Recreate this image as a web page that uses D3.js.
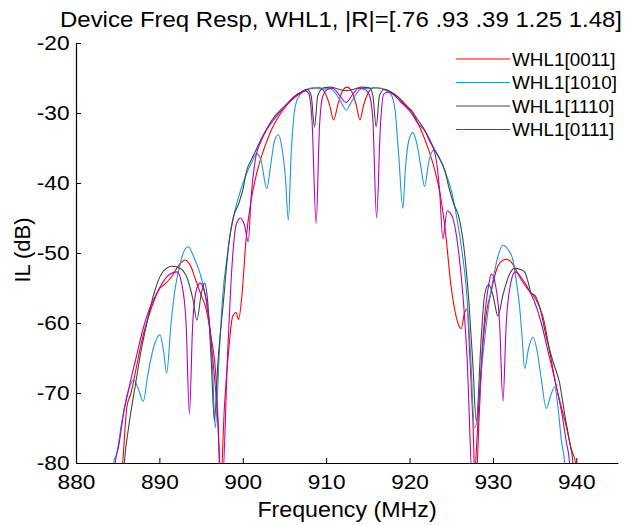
<!DOCTYPE html>
<html>
<head>
<meta charset="utf-8">
<script src="https://cdn.jsdelivr.net/npm/d3@7"></script>
<style>
  html, body { margin: 0; padding: 0; background: #fff; }
  svg { display: block; }
  text { font-family: "Liberation Sans", Arial, Helvetica, sans-serif; fill: #000; }
</style>
</head>
<body>
<svg id="chart" width="635" height="525"></svg>
<script>
// ---------- data (frequency MHz, insertion loss dB) ----------
const titleText = "Device Freq Resp, WHL1, |R|=[.76 .93 .39 1.25 1.48]";
const xLabel = "Frequency (MHz)";
const yLabel = "IL (dB)";
const xTicks = [880, 890, 900, 910, 920, 930, 940];
const yTicks = [-80, -70, -60, -50, -40, -30, -20];
const seriesNames = ["WHL1[0011]", "WHL1[1010]", "WHL1[1110]", "WHL1[0111]"];

const red0011 = [
  [885.3,-84],[885.6,-80],[886.1,-72],[886.6,-70],[887.3,-66],[888.0,-62],[888.6,-59.5],[889.3,-57],
  [889.9,-55.3],[890.6,-54.5],[891.4,-53.5],[892.3,-51.8],[893.1,-51],[893.8,-52],[894.4,-54],[895.0,-56],
  [895.6,-58],[896.2,-62],[896.8,-68],[897.1,-76],[897.3,-84],[897.8,-72],[898.3,-64],[898.8,-59],
  [899.2,-58.5],[899.5,-59.5],[899.9,-56],[900.4,-48],[901.0,-42.5],[901.7,-38.5],[902.5,-35.3],[903.4,-32.5],
  [904.3,-30.5],[905.2,-29],[906.2,-27.8],[907.2,-27],[908.2,-26.5],[909.2,-26.4],[909.9,-27.2],[910.4,-28.8],
  [910.9,-31],[911.4,-28.8],[911.9,-27],[912.5,-26.3],[913.1,-27],[913.6,-28.8],[914.05,-31],[914.5,-28.8],
  [915.0,-27.2],[915.7,-26.4],[916.7,-26.5],[917.7,-27],[918.7,-27.8],[919.7,-29],[920.6,-30.5],[921.4,-32.5],
  [922.3,-35.3],[923.1,-38.5],[923.8,-42.5],[924.4,-48],[924.9,-54],[925.4,-58],[925.8,-60],[926.2,-60.8],
  [926.6,-58.5],[926.9,-58],[927.2,-64],[927.6,-74],[927.9,-84],[928.4,-72],[928.8,-63],[929.3,-58],
  [929.8,-55.5],[930.4,-52.5],[931.0,-51.2],[931.6,-50.9],[932.2,-51.3],[932.8,-52.5],[933.5,-54],[934.2,-55.2],
  [934.8,-56],[935.4,-57.2],[936.0,-59.1],[936.8,-64],[937.6,-69.1],[938.2,-72],[938.8,-74.8],[939.4,-78],
  [939.9,-80],[940.2,-84]
];

const blue1010 = [
  [884.3,-84],[884.5,-80],[884.9,-78.6],[885.5,-74],[886.2,-70],[886.9,-68.1],[887.5,-69.5],[888.07,-71.2],
  [888.6,-67.5],[889.3,-63.5],[890.07,-61.7],[890.5,-64],[890.87,-67.2],[891.4,-60],[891.9,-55],[892.5,-51.5],
  [893.0,-49.6],[893.47,-49.1],[894.1,-50.5],[894.87,-52.9],[895.5,-56],[896.07,-61],[896.4,-67],[896.7,-75],
  [897.2,-64],[897.6,-56],[898.07,-51],[898.6,-46.5],[899.07,-43.9],[899.8,-40.8],[900.47,-38.6],[901.1,-37],
  [901.67,-35.8],[902.2,-36.8],[902.87,-40.8],[903.4,-37],[903.8,-34],[904.27,-33.1],[904.7,-35],[905.1,-39],
  [905.47,-45.3],[905.8,-36],[906.3,-29],[906.9,-27.3],[907.7,-26.6],[908.6,-26.4],[909.5,-26.6],[910.4,-26.5],
  [911.2,-27.3],[911.9,-28.7],[912.4,-29.6],[912.9,-28.7],[913.6,-27.3],[914.3,-26.5],[915.2,-26.5],[916.1,-26.4],
  [917.0,-26.7],[917.8,-27.4],[918.3,-30],[918.7,-36],[919.2,-43.6],[919.5,-38],[919.9,-34],[920.4,-32.8],
  [920.9,-34.5],[921.4,-38],[921.8,-40.5],[922.3,-37],[922.9,-35.3],[923.6,-36.5],[924.3,-38.5],[925.0,-41],
  [925.6,-44.5],[926.2,-49],[926.8,-55],[927.3,-64],[927.8,-75],[928.2,-72.9],[928.6,-67],[929.0,-62.4],
  [929.5,-57.5],[930.0,-53.9],[930.6,-50.5],[931.2,-48.9],[931.8,-49.5],[932.4,-51],[932.8,-54],[933.2,-57.7],
  [933.5,-62],[933.8,-66.5],[934.3,-63.5],[934.8,-62],[935.3,-64],[935.8,-68],[936.4,-72.2],[936.9,-70.5],
  [937.4,-69.1],[937.8,-72],[938.2,-76.7],[938.6,-80],[938.8,-84]
];

const dark1110 = [
  [885.6,-84],[885.8,-80],[886.3,-75],[887.1,-69],[887.8,-64],[888.5,-60],[889.3,-56],[890.3,-52.9],
  [891.5,-51.9],[892.5,-52.2],[893.3,-53.5],[894.0,-56.5],[894.5,-59.6],[895.0,-56],[895.4,-54.3],[895.8,-57],
  [896.2,-65],[896.6,-74],[897.0,-66],[897.7,-56.7],[898.3,-49],[898.9,-44.8],[899.5,-43],[900.0,-41],
  [900.5,-38.1],[901.1,-36.5],[901.7,-35],[902.3,-33.5],[902.9,-32.2],[903.5,-31],[904.5,-29.6],[905.3,-28.8],
  [906.1,-27.7],[907.0,-27],[907.7,-26.6],[908.2,-27.5],[908.6,-32],[909.0,-27.5],[909.7,-26.4],[910.5,-26.3],
  [911.5,-26.6],[912.4,-26.8],[913.3,-26.6],[914.3,-26.3],[915.2,-26.4],[915.6,-27.5],[916.0,-32],[916.4,-27.5],
  [917.0,-26.6],[917.8,-27],[918.6,-27.7],[919.4,-28.8],[920.2,-29.6],[921.0,-31],[921.6,-32],[922.3,-33.5],
  [922.9,-35],[923.6,-36.5],[924.2,-38.1],[924.8,-41],[925.3,-43],[925.9,-44.8],[926.5,-49],[927.1,-56.7],
  [927.6,-66],[928.0,-74],[928.6,-62],[929.0,-56],[929.5,-54.5],[930.0,-56],[930.6,-59],[931.2,-56],
  [932.0,-53],[932.6,-52.2],[933.4,-52.4],[933.8,-52.7],[934.3,-54.5],[934.6,-55.8],[935.0,-56],[935.6,-57.7],
  [936.4,-62],[937.2,-65.5],[938.0,-68.6],[938.6,-73],[939.2,-77],[939.6,-80],[939.8,-84]
];

const magenta0111 = [
  [884.5,-84],[884.7,-80],[885.1,-77.7],[885.7,-73],[886.4,-69],[887.2,-65],[888.0,-61],[888.8,-58],
  [889.6,-56],[890.4,-54.2],[891.3,-53],[892.1,-52.7],[892.7,-54.5],[893.2,-60],[893.6,-73],[894.0,-60],
  [894.5,-55],[894.9,-54.3],[895.4,-55.5],[895.9,-59],[896.4,-65],[896.9,-72],[897.5,-84],[898.2,-64],
  [898.7,-52],[899.2,-46],[899.7,-45],[900.2,-46],[900.66,-48.4],[901.0,-42],[901.5,-36.7],[902.2,-34],
  [902.9,-32.3],[903.7,-31],[904.5,-29.8],[905.2,-28.8],[905.7,-28.2],[906.3,-27.6],[906.9,-27.2],[907.5,-26.8],
  [907.9,-27.2],[908.3,-31],[908.8,-45.8],[909.2,-32],[909.6,-27.6],[910.2,-26.6],[910.8,-26.5],[911.5,-27.3],
  [912.4,-28.5],[913.2,-27.3],[913.9,-26.5],[914.6,-26.6],[915.2,-27.5],[915.6,-31],[916.05,-45],[916.5,-32],
  [916.9,-27.3],[917.5,-27],[918.2,-27.5],[919.0,-28.5],[919.6,-29.2],[920.2,-30],[921.0,-31.5],[921.8,-32.5],
  [922.4,-34],[923.1,-36],[923.6,-41],[924.0,-48],[924.5,-44],[925.0,-44.5],[925.4,-46],[925.9,-50],
  [926.4,-56],[926.9,-65],[927.6,-84],[928.3,-72],[928.7,-64],[929.1,-58],[929.5,-54.5],[929.8,-53],
  [930.3,-54.5],[930.8,-60],[931.2,-71.2],[931.6,-60],[932.1,-54.5],[932.7,-52.7],[933.4,-53.5],[934.2,-55],
  [935.0,-57],[935.8,-60],[936.6,-64],[937.4,-68],[938.2,-72.5],[938.8,-77],[939.2,-80],[939.4,-84]
];

const seriesData = [red0011, blue1010, dark1110, magenta0111];
const seriesColors = ["#ff0000", "#1c96dc", "#3c4a40", "#b400c0"];

// ---------- layout ----------
const svg = d3.select("#chart");
const X0 = 76, X1 = 618, Y0 = 463, Y1 = 43;
const SX = 1.08; // horizontal text stretch of the original rendering

const x = d3.scaleLinear().domain([880, 945]).range([X0, X1]);
const y = d3.scaleLinear().domain([-80, -20]).range([Y0, Y1]);

svg.append("defs").append("clipPath").attr("id", "plotclip")
  .append("rect").attr("x", X0).attr("y", Y1 - 2).attr("width", X1 - X0).attr("height", Y0 - Y1 + 2);

// lines
const line = d3.line().x(d => x(d[0])).y(d => y(d[1])).curve(d3.curveMonotoneX);
const gLines = svg.append("g").attr("clip-path", "url(#plotclip)");
seriesData.forEach((s, i) => {
  gLines.append("path").datum(s)
    .attr("d", line)
    .attr("fill", "none")
    .attr("stroke", seriesColors[i])
    .attr("stroke-width", 1.1)
    .attr("stroke-linejoin", "round");
});

// axes
const xAxis = d3.axisBottom(x).tickValues(xTicks).tickSizeInner(-5).tickSizeOuter(0).tickPadding(11)
  .tickFormat(d3.format("d"));
const yAxis = d3.axisLeft(y).tickValues(yTicks).tickSizeInner(-5).tickSizeOuter(0).tickPadding(6)
  .tickFormat(d => d3.format("d")(d).replace("−", "-"));

const gx = svg.append("g").attr("transform", `translate(0,${Y0})`).call(xAxis);
const gy = svg.append("g").attr("transform", `translate(${X0},0)`).call(yAxis);
[gx, gy].forEach(g => {
  g.select(".domain").attr("stroke", "#000").attr("stroke-width", 1.2);
  g.selectAll(".tick line").attr("stroke", "#000").attr("stroke-width", 1);
  g.selectAll(".tick text").attr("font-size", 21).attr("fill", "#000")
    .attr("font-family", "'Liberation Sans', Arial, sans-serif")
    .attr("transform", `scale(${SX},1)`);
});

// title and labels
function stretchedText(px, py, str, size, anchor, rotate, sx) {
  const g = svg.append("g").attr("transform", `translate(${px},${py})` + (rotate ? ` rotate(${rotate})` : ""));
  g.append("text").text(str)
    .attr("font-size", size)
    .attr("text-anchor", anchor)
    .attr("transform", rotate ? `scale(1,1)` : `scale(${sx || SX},1)`);
  return g;
}
stretchedText(341, 27, titleText, 22, "middle", 0, 1.09);
stretchedText(347, 517, xLabel, 21.5, "middle");
stretchedText(30, 250, yLabel, 22, "middle", -90);

// legend
const legendRows = [59, 82.5, 106, 129.5];
seriesNames.forEach((name, i) => {
  const ly = legendRows[i];
  svg.append("line")
    .attr("x1", 456).attr("x2", 510).attr("y1", ly).attr("y2", ly)
    .attr("stroke", seriesColors[i]).attr("stroke-width", 1.1);
  stretchedText(512, ly + 6.5, name, 17.5, "start");
});
</script>
</body>
</html>
